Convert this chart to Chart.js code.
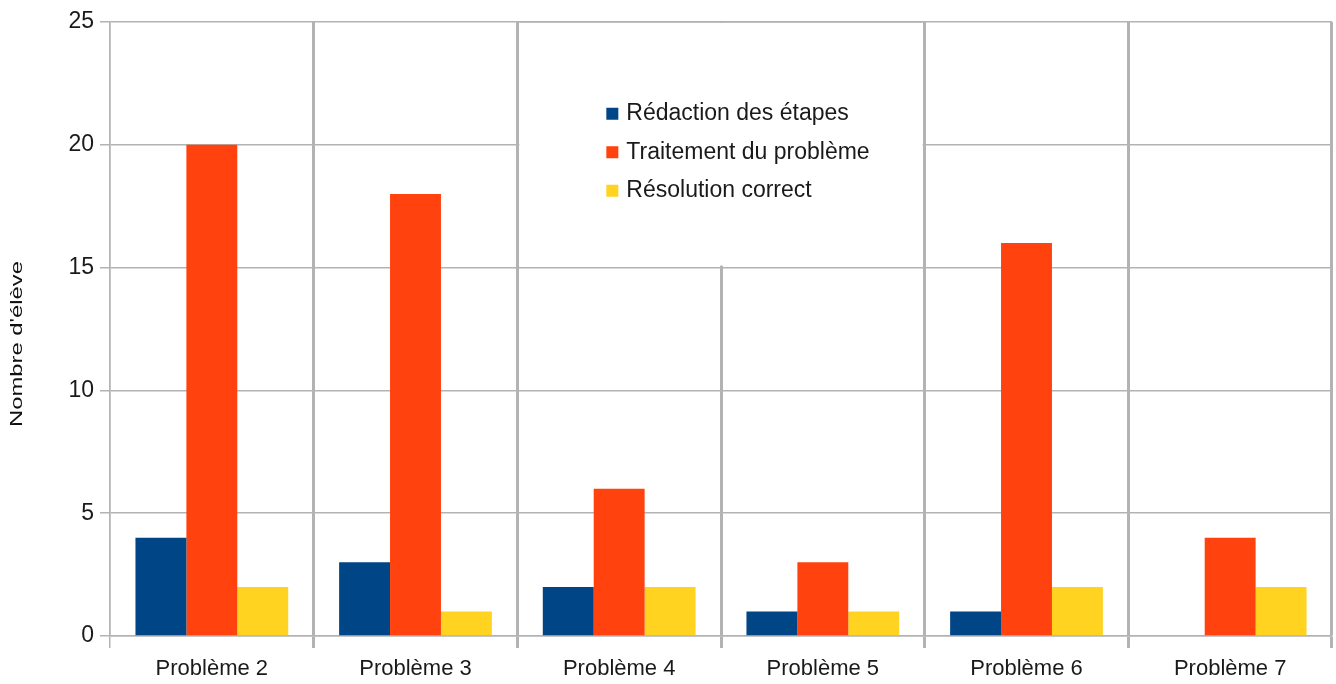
<!DOCTYPE html>
<html>
<head>
<meta charset="utf-8">
<script src="https://cdn.jsdelivr.net/npm/chart.js@4"></script>
<style>
  html, body { margin: 0; padding: 0; background: #fff; }
  #wrap { width: 1336px; height: 684px; }
</style>
</head>
<body>
<div id="wrap"><canvas id="chart"></canvas></div>
<script>
const categories = ["Problème 2", "Problème 3", "Problème 4", "Problème 5", "Problème 6", "Problème 7"];
const redaction = [4, 3, 2, 1, 1, 0];
const traitement = [20, 18, 6, 3, 16, 4];
const resolution = [2, 1, 2, 1, 2, 2];
const seriesNames = ["Rédaction des étapes", "Traitement du problème", "Résolution correct"];
const seriesColors = ["#004586", "#ff420e", "#ffd320"];
const yTicks = [0, 5, 10, 15, 20, 25];
const yTitle = "Nombre d'élève";

const sans = "'Liberation Sans', Arial, sans-serif";
const grey = "#b3b3b3";
const ink = "#1a1a1a";

// legend sits inside the plot on a white box, like the office export
const boxLegend = {
  id: "boxLegend",
  afterDraw(chart) {
    const ctx = chart.ctx;
    const x = chart.scales.x, y = chart.scales.y;
    const left = x.getPixelForValue(1.5) + 2;
    const right = x.getPixelForValue(3.5) - 2;
    const top = chart.chartArea.top + 0.75;
    const bottom = y.getPixelForValue(15) - 2;
    ctx.save();
    ctx.fillStyle = "#fff";
    ctx.fillRect(left, top, right - left, bottom - top);
    // redraw the top edge over the box
    ctx.strokeStyle = grey;
    ctx.lineWidth = 1.5;
    ctx.beginPath();
    ctx.moveTo(left, chart.chartArea.top);
    ctx.lineTo(right, chart.chartArea.top);
    ctx.stroke();
    ctx.font = "23px " + sans;
    ctx.textBaseline = "middle";
    chart.data.datasets.forEach((ds, i) => {
      const ry = top + 91 + i * 38.5;
      ctx.fillStyle = ds.backgroundColor;
      ctx.fillRect(left + 87, ry - 6, 12, 12);
      ctx.fillStyle = ink;
      ctx.fillText(ds.label, left + 107, ry);
    });
    // y axis title, stretched along its length as in the picture
    ctx.translate(17, chart.height / 2 + 2);
    ctx.rotate(-Math.PI / 2);
    ctx.scale(1.4, 1);
    ctx.font = "17px " + sans;
    ctx.textAlign = "center";
    ctx.fillStyle = "#111";
    ctx.fillText(yTitle, 0, 0);
    ctx.restore();
  }
};

new Chart(document.getElementById("chart"), {
  type: "bar",
  data: {
    labels: categories,
    datasets: [redaction, traitement, resolution].map((d, i) => ({
      label: seriesNames[i],
      data: d,
      backgroundColor: seriesColors[i],
      borderWidth: 0,
      barPercentage: 1,
      categoryPercentage: 0.75,
    })),
  },
  options: {
    responsive: true,
    maintainAspectRatio: false,
    animation: false,
    layout: { padding: { top: 22, right: 4, left: 0, bottom: 0 } },
    plugins: {
      legend: { display: false },
      tooltip: { enabled: false },
    },
    scales: {
      x: {
        grid: {
          offset: true,
          color: grey,
          lineWidth: (c) => (c.index === 0 || c.index === categories.length ? 1.5 : 3),
          tickLength: 12,
        },
        border: { color: grey, width: 1.5 },
        ticks: { color: ink, font: { family: sans, size: 22 }, padding: 8 },
        afterFit: (s) => { s.height = 48; },
      },
      y: {
        min: 0,
        max: 25,
        afterBuildTicks: (s) => { s.ticks = yTicks.map((v) => ({ value: v })); },
        grid: { color: grey, lineWidth: 1.5, tickLength: 10 },
        border: { color: grey, width: 1.5 },
        ticks: { color: ink, font: { family: sans, size: 23 }, padding: 6 },
        afterFit: (s) => { s.width = 110; },
      },
    },
  },
  plugins: [boxLegend],
});
</script>
</body>
</html>
